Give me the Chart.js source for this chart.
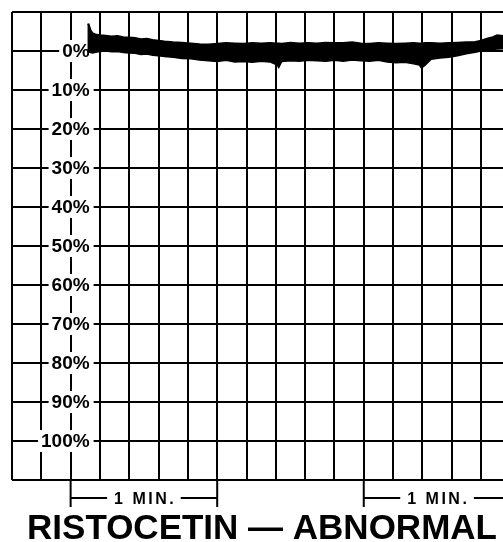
<!DOCTYPE html>
<html>
<head>
<meta charset="utf-8">
<script src="https://cdn.jsdelivr.net/npm/chart.js@4/dist/chart.umd.min.js"></script>
<style>
  html, body { margin: 0; padding: 0; background: #fff; }
  #wrap { width: 503px; height: 542px; }
</style>
</head>
<body>
<div id="wrap"><canvas id="grafico" width="503" height="542"></canvas></div>
<script>
// tiempo en divisiones de la cuadricula (5 divisiones = 1 min)
const tiempo = [
  2.57, 2.62, 2.68, 2.75, 2.85, 3.0, 3.2, 3.4, 3.6, 3.8,
  4.0, 4.2, 4.4, 4.6, 4.8, 5.0, 5.2, 5.5, 5.8, 6.1,
  6.4, 6.7, 7.0, 7.3, 7.6, 7.9, 8.2, 8.5, 8.8, 9.05,
  9.1, 9.2, 9.5, 9.8, 10.1, 10.4, 10.7, 11.0, 11.3, 11.6,
  11.9, 12.2, 12.5, 12.8, 13.1, 13.4, 13.7, 13.9, 13.97, 14.1,
  14.3, 14.6, 14.9, 15.2, 15.5, 15.8, 16.0, 16.2, 16.4, 16.55,
  16.75
];
// borde superior e inferior del trazo (% agregacion)
const trazoSuperior = [
  -6.8, -6.9, -5.5, -4.6, -4.3, -4.1, -4.0, -3.8, -3.9, -3.6,
  -3.5, -3.4, -3.1, -3.2, -2.9, -2.7, -2.5, -2.3, -2.2, -2.0,
  -1.8, -1.7, -1.9, -2.1, -2.0, -1.9, -2.1, -2.0, -2.1, -2.0,
  -2.0, -1.9, -2.2, -2.0, -2.1, -2.0, -2.2, -2.1, -2.1, -2.3,
  -2.0, -1.9, -2.1, -2.0, -1.9, -2.0, -2.1, -2.0, -2.0, -2.1,
  -2.1, -2.0, -2.1, -2.2, -2.3, -2.4, -2.7, -3.2, -3.6, -4.1,
  -3.9
];
const trazoInferior = [
  -0.3, 0.2, 0.4, 0.5, 0.3, 0.1, 0.0, 0.2, 0.1, 0.4,
  0.5, 0.6, 0.9, 0.8, 1.1, 1.2, 1.4, 1.6, 1.9, 2.0,
  2.3, 2.5, 2.7, 2.4, 2.8, 2.7, 2.9, 2.6, 2.8, 3.6,
  4.2, 2.7, 2.5, 2.6, 2.4, 2.5, 2.6, 2.4, 2.6, 2.3,
  2.5, 2.6, 2.4, 2.8, 3.0, 2.9, 3.3, 3.6, 4.4, 3.6,
  2.1, 1.8, 1.6, 1.2, 0.7, 0.3, 0.0, -0.2, -0.4, -0.5,
  -0.6
];

const valoresY = [0, 10, 20, 30, 40, 50, 60, 70, 80, 90, 100];
const etiquetasY = ['0%', '10%', '20%', '30%', '40%', '50%', '60%', '70%', '80%', '90%', '100%'];
const columnaEtiquetas = 2;
const marcasMinuto = [[2, 7], [12, 17]];
const textoMinuto = '1 MIN.';
const titulo = 'RISTOCETIN \u2014 ABNORMAL';

const FUENTE = '"Liberation Sans", Arial, Helvetica, sans-serif';

const pluginTextos = {
  id: 'textos',
  beforeDatasetsDraw(chart) {
    const { ctx, scales: { x, y } } = chart;
    const colX = x.getPixelForValue(columnaEtiquetas);
    ctx.save();
    ctx.font = 'bold 19px ' + FUENTE;
    ctx.textAlign = 'right';
    ctx.textBaseline = 'middle';
    valoresY.forEach((v, i) => {
      const py = y.getPixelForValue(v);
      const txt = etiquetasY[i];
      const w = ctx.measureText(txt).width;
      const derecha = colX + 19;
      ctx.fillStyle = '#fff';
      ctx.fillRect(derecha - w - 3, py - 11, w + 7, 22);
      ctx.fillStyle = '#000';
      ctx.fillText(txt, derecha, py + 1);
    });
    ctx.restore();
  },
  afterDraw(chart) {
    const { ctx, chartArea, scales: { x } } = chart;
    const base = chartArea.bottom;
    ctx.save();
    ctx.strokeStyle = '#000';
    ctx.fillStyle = '#000';
    ctx.lineWidth = 2;
    ctx.font = 'bold 16px ' + FUENTE;
    ctx.letterSpacing = '2.5px';
    ctx.textAlign = 'left';
    ctx.textBaseline = 'alphabetic';
    marcasMinuto.forEach(([a, b]) => {
      const xa = x.getPixelForValue(a);
      const xb = x.getPixelForValue(b);
      const medio = (xa + xb) / 2;
      const w = ctx.measureText(textoMinuto).width - 2.5;
      ctx.beginPath();
      ctx.moveTo(xa, base);
      ctx.lineTo(xa, base + 27);
      ctx.moveTo(xb, base);
      ctx.lineTo(xb, base + 27);
      ctx.moveTo(xa, base + 18);
      ctx.lineTo(medio - w / 2 - 7, base + 18);
      ctx.moveTo(medio + w / 2 + 7, base + 18);
      ctx.lineTo(xb, base + 18);
      ctx.stroke();
      ctx.fillText(textoMinuto, medio - w / 2, base + 24);
    });
    ctx.letterSpacing = '0px';
    ctx.font = 'bold 35px ' + FUENTE;
    ctx.textAlign = 'center';
    ctx.fillText(titulo, 262, 539);
    ctx.restore();
  }
};

new Chart(document.getElementById('grafico'), {
  type: 'line',
  data: {
    datasets: [{
      label: 'superior',
      data: tiempo.map((t, i) => ({ x: t, y: trazoSuperior[i] })),
      borderColor: '#000',
      borderWidth: 1.5,
      pointRadius: 0,
      fill: false
    }, {
      label: 'inferior',
      data: tiempo.map((t, i) => ({ x: t, y: trazoInferior[i] })),
      borderColor: '#000',
      backgroundColor: '#000',
      borderWidth: 1.5,
      pointRadius: 0,
      fill: '-1'
    }]
  },
  options: {
    responsive: false,
    animation: false,
    layout: {
      padding: { left: 12, top: 12, right: 0, bottom: 62 }
    },
    elements: { line: { tension: 0 } },
    scales: {
      x: {
        type: 'linear',
        min: 0,
        max: 16.75,
        ticks: { display: false, stepSize: 1, includeBounds: false },
        grid: { color: '#000', lineWidth: 2, drawTicks: false },
        border: { display: false }
      },
      y: {
        type: 'linear',
        reverse: true,
        min: -10,
        max: 110,
        ticks: { display: false, stepSize: 10 },
        grid: { color: '#000', lineWidth: 2, drawTicks: false },
        border: { display: false }
      }
    },
    plugins: {
      legend: { display: false },
      tooltip: { enabled: false }
    }
  },
  plugins: [pluginTextos]
});
</script>
</body>
</html>
